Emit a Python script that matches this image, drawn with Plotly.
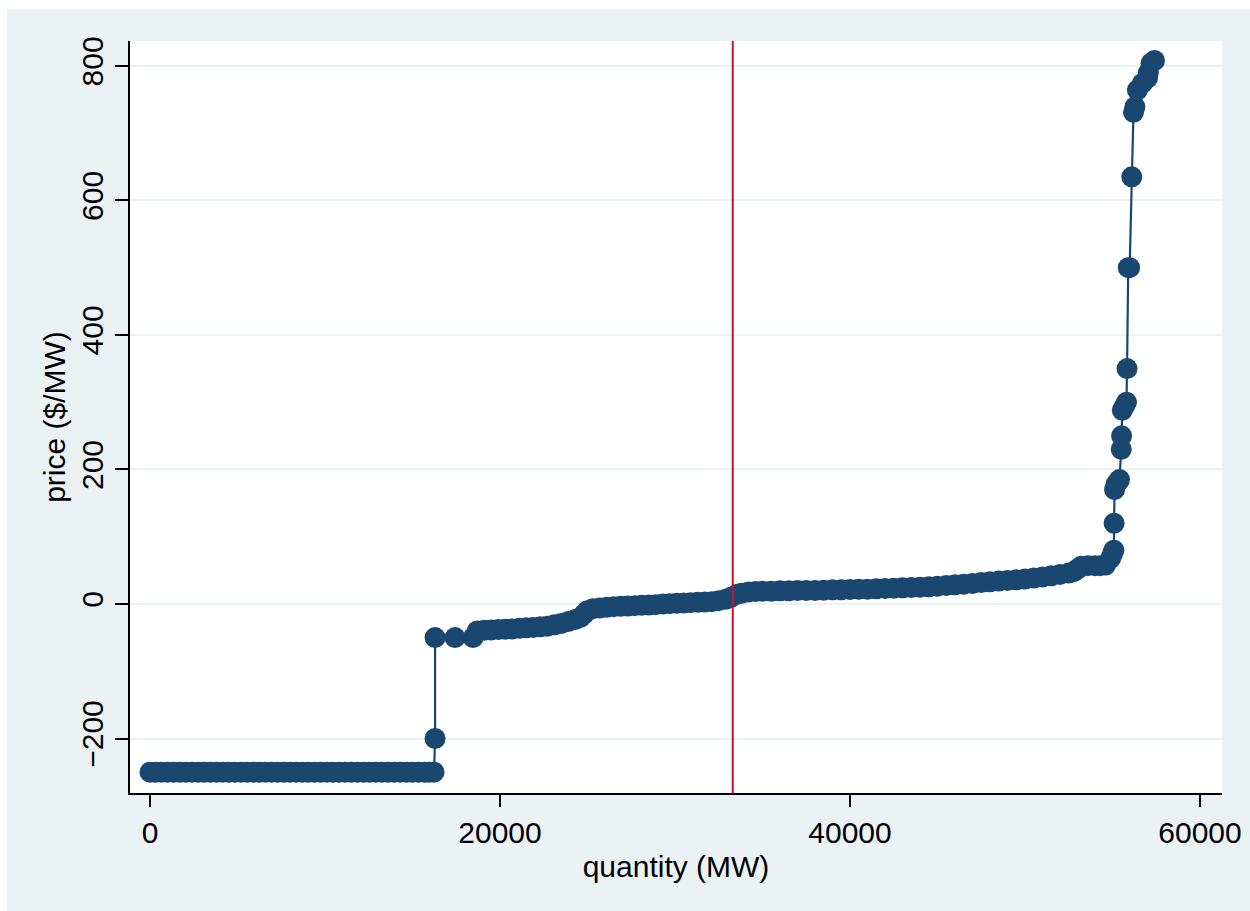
import plotly.graph_objects as go

# Supply curve points (quantity MW, price $/MW)
quantity = [
    0, 300, 650, 1000, 1350, 1700, 2050, 2400, 2750, 3100, 3450, 3800, 4150, 4500,
    4850, 5200, 5550, 5900, 6250, 6600, 6950, 7300, 7650, 8000, 8350, 8700, 9050,
    9400, 9750, 10100, 10450, 10800, 11150, 11500, 11850, 12200, 12550, 12900,
    13250, 13600, 13950, 14300, 14650, 15000, 15350, 15700, 15950, 16230,
    16290, 16290, 17430, 18460,
    18700, 19100, 19500, 19900, 20300, 20700, 21100, 21500, 21900, 22300, 22700,
    23100, 23500, 23900, 24300, 24600, 24800, 25000, 25300, 25700, 26100, 26500,
    26900, 27300, 27700, 28100, 28500, 28900, 29300, 29700, 30100, 30500, 30900,
    31300, 31700, 32100, 32500, 32900, 33200, 33500, 33800, 34200, 34600, 35000,
    35500, 36000, 36500, 37000, 37500, 38000, 38500, 39000, 39500, 40000, 40500,
    41000, 41500, 42000, 42500, 43000, 43500, 44000, 44500, 45000, 45500, 46000,
    46500, 47000, 47500, 48000, 48500, 49000, 49500, 50000, 50500, 51000, 51500,
    52000, 52500, 52800, 53000, 53200, 53600, 54000, 54300, 54600, 54900, 55000,
    55080, 55090, 55120, 55200, 55350, 55400, 55500, 55520, 55560, 55700, 55800,
    55830, 55900, 55980, 56100, 56200, 56280, 56420, 56700, 57000, 57050, 57200,
    57400,
]
price = [
    -250, -250, -250, -250, -250, -250, -250, -250, -250, -250, -250, -250, -250, -250,
    -250, -250, -250, -250, -250, -250, -250, -250, -250, -250, -250, -250, -250,
    -250, -250, -250, -250, -250, -250, -250, -250, -250, -250, -250,
    -250, -250, -250, -250, -250, -250, -250, -250, -250, -250,
    -200, -50, -50, -50,
    -40, -39, -38.5, -38, -37.5, -37, -36, -35.5, -35, -34, -33,
    -31, -29, -26, -23, -20, -15, -10, -7, -6, -5, -4,
    -3.5, -3, -2.5, -2, -1.5, -1, 0, 0.5, 1, 1.5, 2,
    2.5, 3, 3.5, 5, 7, 10, 14, 16, 18, 18.5, 19,
    19, 19.5, 19.5, 20, 20, 20, 20.5, 21, 21, 21.5, 22,
    22, 22.5, 23, 23.5, 24, 24.5, 25, 25.5, 26.5, 27.5, 28.5,
    29.5, 30.5, 32, 33, 34, 35, 36, 37, 38.5, 40, 42,
    44, 46, 48, 52, 56, 57, 57, 57, 58, 68, 75,
    80, 120, 170, 178, 183, 185, 230, 250, 288, 295, 300,
    350, 500, 500, 635, 731, 739, 764, 774, 782, 790, 804,
    808,
]

x_ticks = [0, 20000, 40000, 60000]
y_ticks = [-200, 0, 200, 400, 600, 800]
y_tick_text = ["\u2212200", "0", "200", "400", "600", "800"]
cutoff_quantity = 33300

NAVY = "#1a476f"
BG = "#eaf2f3"
FONT = "Liberation Sans, Arial, sans-serif"

fig = go.Figure()
fig.add_trace(go.Scatter(
    x=quantity, y=price, mode="lines+markers",
    line=dict(color=NAVY, width=2.2),
    marker=dict(color=NAVY, size=21, line=dict(width=0)),
    showlegend=False,
))

fig.add_shape(type="line", xref="x", yref="paper", x0=cutoff_quantity, x1=cutoff_quantity,
              y0=0, y1=1, line=dict(color="#c8102e", width=2))

# light blue graph region (page background) and white plot region
fig.add_shape(type="rect", xref="paper", yref="paper", layer="below",
              x0=(7 - 130) / 1092, x1=(1250 - 130) / 1092,
              y0=-(911 - 793) / 752, y1=1 + (41 - 9) / 752,
              fillcolor=BG, line=dict(width=0))
fig.add_shape(type="rect", xref="paper", yref="paper", layer="below",
              x0=0, x1=1, y0=0, y1=1, fillcolor="white", line=dict(width=0))

fig.update_layout(
    width=1250, height=911,
    margin=dict(l=130, r=28, t=41, b=118, autoexpand=False),
    paper_bgcolor="white", plot_bgcolor="white",
    font=dict(family=FONT, size=30, color="black"),
    xaxis=dict(
        range=[-1143, 61257], tickvals=x_ticks, ticktext=[str(v) for v in x_ticks],
        showgrid=False, zeroline=False, showline=True, linecolor="black", linewidth=1.5,
        ticks="outside", ticklen=12, tickwidth=1.5, tickcolor="black",
        tickfont=dict(size=30), automargin=False,
        title=dict(text="quantity (MW)", font=dict(size=30), standoff=8),
    ),
    yaxis=dict(
        range=[-281, 837], tickvals=y_ticks, ticktext=y_tick_text,
        showgrid=True, gridcolor=BG, gridwidth=2, zeroline=False,
        showline=True, linecolor="black", linewidth=1.5,
        ticks="outside", ticklen=13, tickwidth=1.5, tickcolor="black",
        tickangle=-90, tickfont=dict(size=30), automargin=False,
        title=dict(text="price ($/MW)", font=dict(size=30), standoff=2),
    ),
)

fig.write_html("out.html")
